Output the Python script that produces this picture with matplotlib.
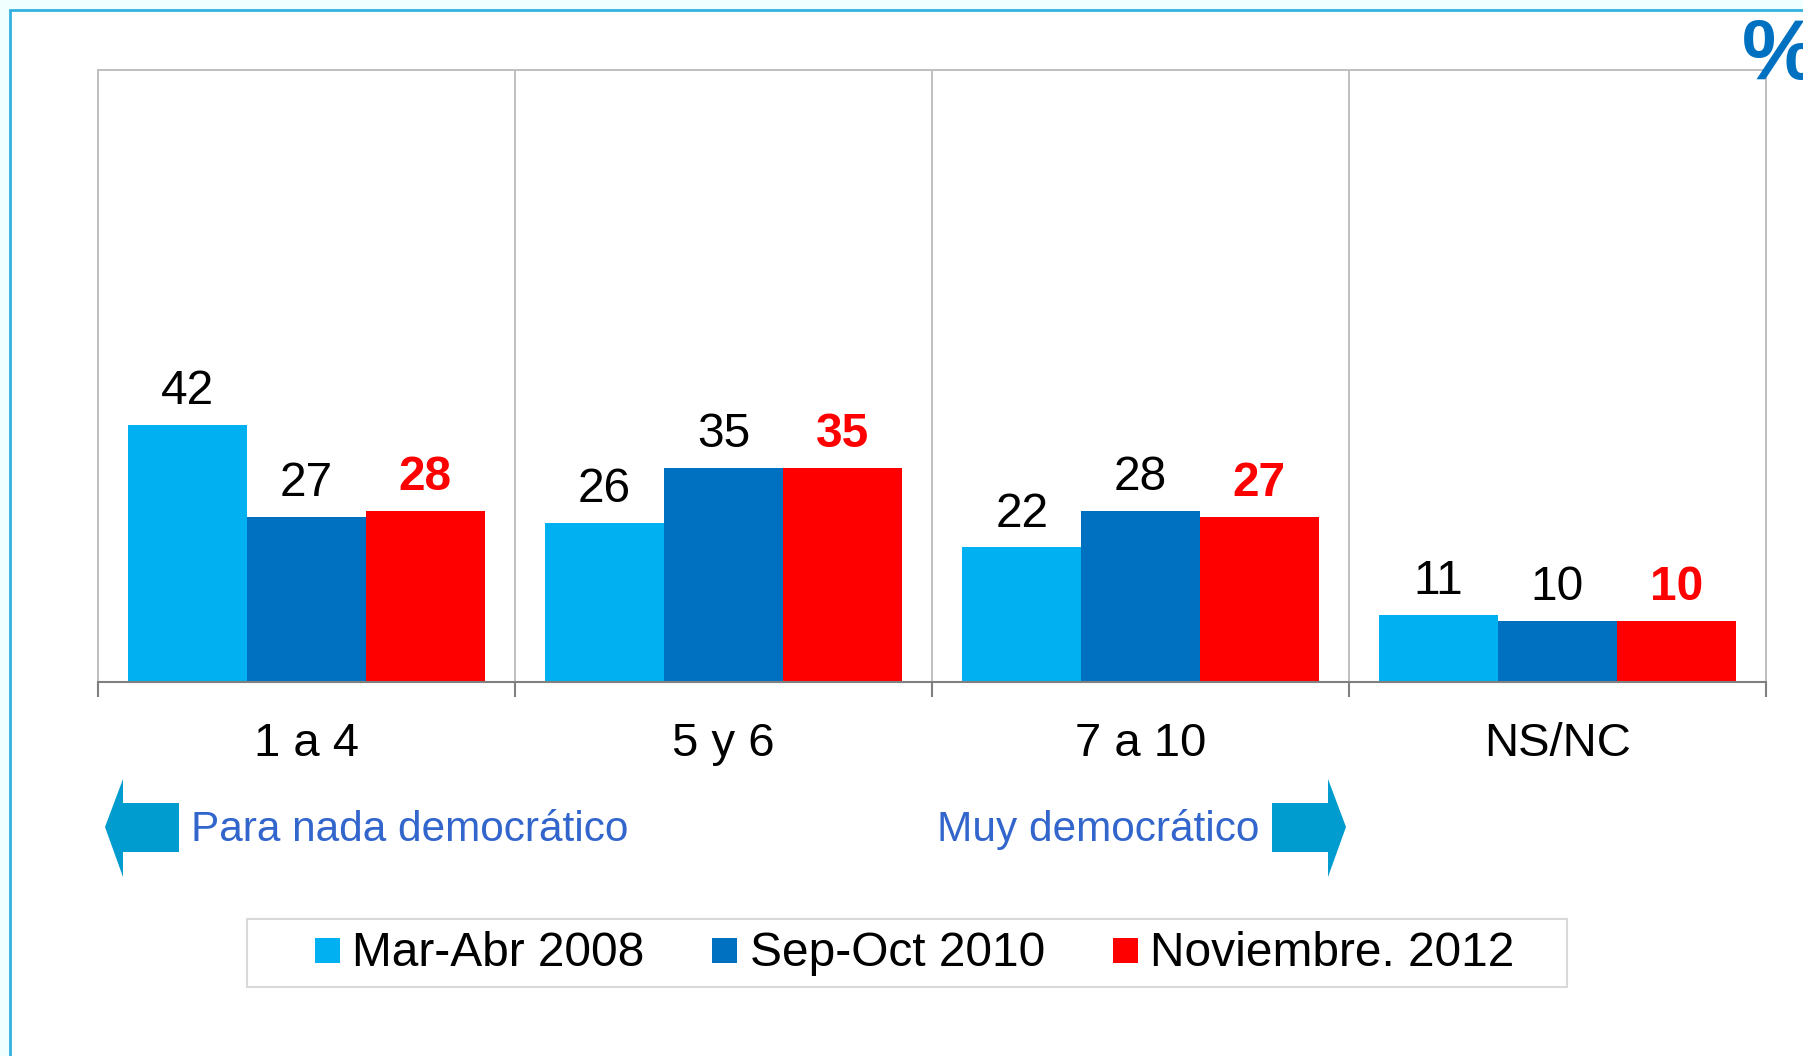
import numpy as np
import matplotlib
matplotlib.use("Agg")
import matplotlib.pyplot as plt
from matplotlib.patches import Rectangle, Polygon
from matplotlib.lines import Line2D

plt.rcParams['font.family'] = ['Liberation Sans', 'DejaVu Sans']

categories = ['1 a 4', '5 y 6', '7 a 10', 'NS/NC']
series_names = ['Mar-Abr 2008', 'Sep-Oct 2010', 'Noviembre. 2012']
v2008 = [42, 26, 22, 11]
v2010 = [27, 35, 28, 10]
v2012 = [28, 35, 27, 10]
series_values = [v2008, v2010, v2012]
colors = ['#00B0F0', '#0070C0', '#FF0000']
label_colors = ['black', 'black', '#FF0000']
label_weights = ['normal', 'normal', 'bold']

W, H = 1803, 1056
DPI = 100
fig = plt.figure(figsize=(W / DPI, H / DPI), dpi=DPI)
fig.patch.set_facecolor('#F0FFFF')


def fx(px):
    return px / W


def fy(py):
    return 1 - py / H


# outer frame
frame = Rectangle((fx(10), -0.2), 1.2, fy(10) + 0.2, transform=fig.transFigure,
                  facecolor='white', edgecolor='#33B2DE', lw=2.0, zorder=-5)
fig.patches.append(frame)

ax = fig.add_axes([fx(98), fy(682), fx(1766) - fx(98), fy(70) - fy(682)])
ax.set_facecolor('none')
ax.set_zorder(2)

x = np.arange(len(categories))
bw = 0.285
offsets = [-bw, 0, bw]
for vals, off, c, lc, lw_ in zip(series_values, offsets, colors, label_colors, label_weights):
    bars = ax.bar(x + off, vals, width=bw, color=c, zorder=3)
    for b, v in zip(bars, vals):
        ax.annotate(str(v), (b.get_x() + b.get_width() / 2, v), xytext=(0, 15),
                    textcoords='offset points', ha='center', va='baseline',
                    fontsize=34.5, color=lc, fontweight=lw_)

ax.set_xlim(-0.5, len(categories) - 0.5)
ax.set_ylim(0, 100)
ax.set_yticks([])
ax.set_xticks(x)
ax.set_xticklabels(categories, fontsize=34)
ax.set_xticks(np.arange(-0.5, len(categories), 1.0), minor=True)
ax.tick_params(axis='x', which='major', length=0, pad=28.5)
ax.tick_params(axis='x', which='minor', length=10.8, width=1.5, color='#808080')
ax.grid(which='minor', axis='x', color='#BFBFBF', lw=1.4, zorder=1)
for s in ['left', 'right', 'top']:
    ax.spines[s].set_color('#BFBFBF')
    ax.spines[s].set_linewidth(1.4)
ax.spines['bottom'].set_color('#808080')
ax.spines['bottom'].set_linewidth(1.5)
ax.spines['bottom'].set_zorder(4)

# percent sign
fig.text(fx(1742), fy(79), '%', fontsize=62, fontweight='bold', color='#0070C0',
         ha='left', va='baseline', zorder=10)

# arrows
arrow_color = '#009BCF'
left_arrow = [(105, 827), (123, 779), (123, 803), (179, 803), (179, 852), (123, 852), (123, 877)]
right_arrow = [(1272, 803), (1328, 803), (1328, 779), (1346, 827), (1328, 877), (1328, 852), (1272, 852)]
for pts in (left_arrow, right_arrow):
    fig.patches.append(Polygon([(fx(a), fy(b)) for a, b in pts], closed=True,
                               transform=fig.transFigure, facecolor=arrow_color,
                               edgecolor='none'))
fig.text(fx(191), fy(841), 'Para nada democrático', fontsize=30.5, color='#3366CC',
         ha='left', va='baseline')
fig.text(fx(1259), fy(841), 'Muy democrático', fontsize=30.5, color='#3366CC',
         ha='right', va='baseline')

# legend box
fig.patches.append(Rectangle((fx(247), fy(987)), fx(1567) - fx(247), fy(919) - fy(987),
                             transform=fig.transFigure, facecolor='white',
                             edgecolor='#D9D9D9', lw=1.5, zorder=1))
handles = [Line2D([], [], marker='s', linestyle='none', markersize=18, color=c,
                  markeredgewidth=0) for c in colors]
fig.legend(handles, series_names, loc='center', bbox_to_anchor=(fx(914), fy(954)),
           ncol=3, frameon=False, fontsize=34.5, handlelength=0.55,
           handletextpad=0.25, columnspacing=1.4, borderpad=0)

fig.savefig('out.png', dpi=DPI, facecolor=fig.get_facecolor())
